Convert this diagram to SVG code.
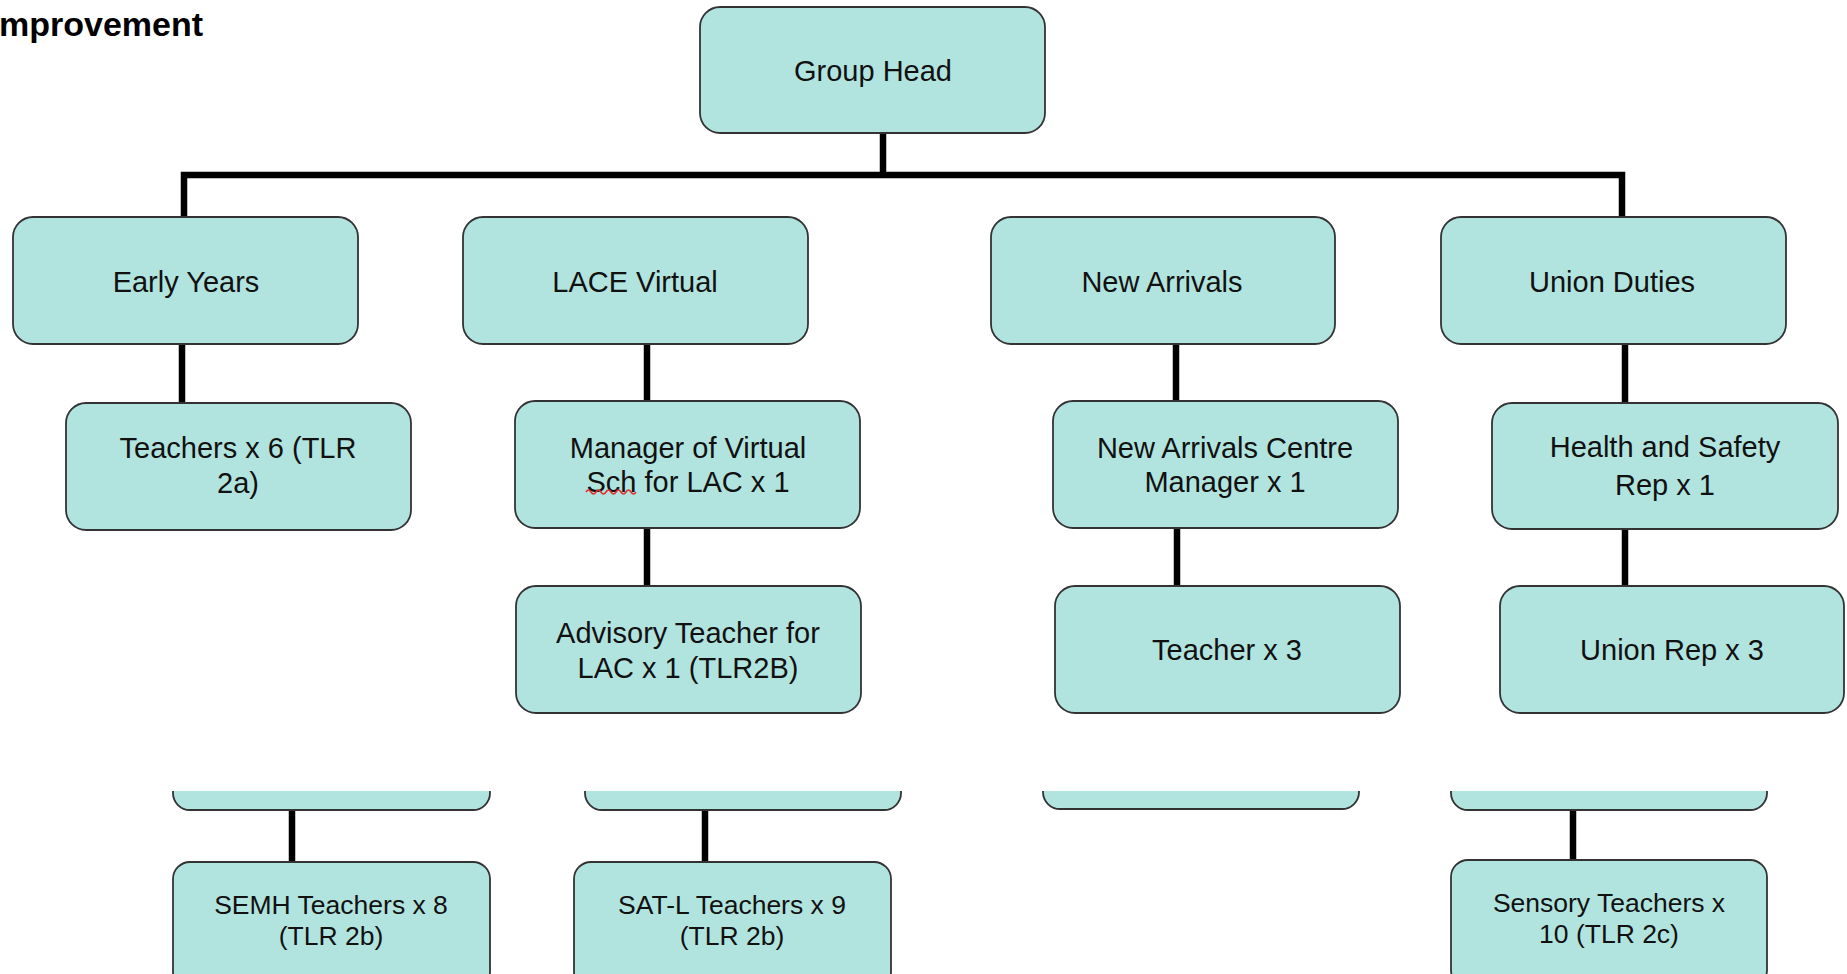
<svg xmlns="http://www.w3.org/2000/svg" width="1847" height="974" viewBox="0 0 1847 974">
<style>
.box{fill:#b2e4df;stroke:#333;stroke-width:1.8}
.t{font-family:"Liberation Sans",Arial,sans-serif;font-size:29px;fill:#111;text-anchor:middle}
.s{font-size:26.5px}
.c{fill:none;stroke:#000;stroke-width:6.5;stroke-linejoin:miter;stroke-linecap:butt}
.title{font-family:"Liberation Sans",Arial,sans-serif;font-size:34px;font-weight:bold;fill:#000}
</style>
<defs>
<clipPath id="cut"><rect x="0" y="791" width="1847" height="200"/></clipPath>
</defs>
<rect x="0" y="0" width="1847" height="974" fill="#fff"/>
<text class="title" x="-1" y="36">mprovement</text>

<g id="connectors">
<path class="c" d="M184,217 V175 H1622 V217"/>
<path class="c" d="M883,133 V175"/>
<path class="c" d="M182,344 V403"/>
<path class="c" d="M647,344 V401"/>
<path class="c" d="M647,528 V586"/>
<path class="c" d="M1176,344 V401"/>
<path class="c" d="M1177,528 V586"/>
<path class="c" d="M1625,344 V403"/>
<path class="c" d="M1625,529 V586"/>
<path class="c" d="M292,810 V862"/>
<path class="c" d="M705,810 V862"/>
<path class="c" d="M1573,810 V860"/>
</g>

<g id="group-head"><rect class="box" x="700" y="7" width="345" height="126" rx="20"/><text class="t" x="873" y="81">Group Head</text></g>

<g id="early-years"><rect class="box" x="13" y="217" width="345" height="127" rx="20"/><text class="t" x="186" y="292">Early Years</text></g>
<g id="lace-virtual"><rect class="box" x="463" y="217" width="345" height="127" rx="20"/><text class="t" x="635" y="292">LACE Virtual</text></g>
<g id="new-arrivals"><rect class="box" x="991" y="217" width="344" height="127" rx="20"/><text class="t" x="1162" y="292">New Arrivals</text></g>
<g id="union-duties"><rect class="box" x="1441" y="217" width="345" height="127" rx="20"/><text class="t" x="1612" y="292">Union Duties</text></g>

<g id="teachers-x6"><rect class="box" x="66" y="403" width="345" height="127" rx="20"/><text class="t" x="238" y="458">Teachers x 6 (TLR</text><text class="t" x="238" y="493">2a)</text></g>
<g id="manager-virtual"><rect class="box" x="515" y="401" width="345" height="127" rx="20"/><text class="t" x="688" y="458">Manager of Virtual</text><text class="t" x="688" y="492">Sch for LAC x 1</text><path d="M586,492 q2.5,-4 5,0 t5,0 t5,0 t5,0 t5,0 t5,0 t5,0 t5,0 t5,0 t5,0" fill="none" stroke="#e03030" stroke-width="1.6"/></g>
<g id="advisory-teacher"><rect class="box" x="516" y="586" width="345" height="127" rx="20"/><text class="t" x="688" y="643">Advisory Teacher for</text><text class="t" x="688" y="678">LAC x 1 (TLR2B)</text></g>
<g id="new-arrivals-manager"><rect class="box" x="1053" y="401" width="345" height="127" rx="20"/><text class="t" x="1225" y="458">New Arrivals Centre</text><text class="t" x="1225" y="492">Manager x 1</text></g>
<g id="teacher-x3"><rect class="box" x="1055" y="586" width="345" height="127" rx="20"/><text class="t" x="1227" y="660">Teacher x 3</text></g>
<g id="health-safety"><rect class="box" x="1492" y="403" width="346" height="126" rx="20"/><text class="t" x="1665" y="457">Health and Safety</text><text class="t" x="1665" y="495">Rep x 1</text></g>
<g id="union-rep"><rect class="box" x="1500" y="586" width="344" height="127" rx="20"/><text class="t" x="1672" y="660">Union Rep x 3</text></g>

<g id="partial-1" clip-path="url(#cut)"><rect class="box" x="173" y="700" width="317" height="110" rx="17"/></g>
<g id="partial-2" clip-path="url(#cut)"><rect class="box" x="585" y="700" width="316" height="110" rx="17"/></g>
<g id="partial-3" clip-path="url(#cut)"><rect class="box" x="1043" y="700" width="316" height="109" rx="17"/></g>
<g id="partial-4" clip-path="url(#cut)"><rect class="box" x="1451" y="700" width="316" height="110" rx="17"/></g>

<g id="semh"><rect class="box" x="173" y="862" width="317" height="127" rx="17"/><text class="t s" x="331" y="914">SEMH Teachers x 8</text><text class="t s" x="331" y="945">(TLR 2b)</text></g>
<g id="sat-l"><rect class="box" x="574" y="862" width="317" height="127" rx="17"/><text class="t s" x="732" y="914">SAT-L Teachers x 9</text><text class="t s" x="732" y="945">(TLR 2b)</text></g>
<g id="sensory"><rect class="box" x="1451" y="860" width="316" height="127" rx="17"/><text class="t s" x="1609" y="912">Sensory Teachers x</text><text class="t s" x="1609" y="943">10 (TLR 2c)</text></g>
</svg>
